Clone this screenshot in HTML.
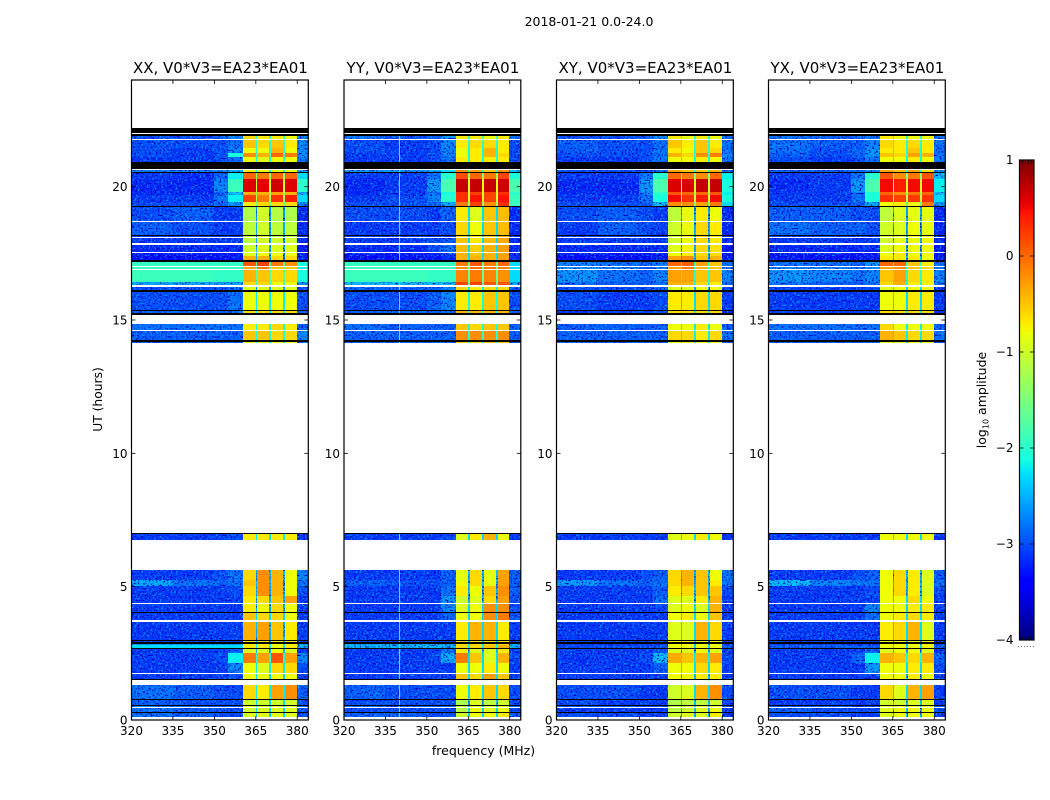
<!DOCTYPE html>
<html lang="en">
<head>
<meta charset="utf-8">
<title>2018-01-21 0.0-24.0</title>
<style>
html,body{margin:0;padding:0;background:#fff;}
svg{display:block;}
text{font-family:"DejaVu Sans","Liberation Sans",sans-serif;fill:#000;}
</style>
</head>
<body>
<svg id="chart" xmlns="http://www.w3.org/2000/svg" width="1050" height="800" viewBox="0 0 1050 800">
<defs>
<filter id="speckle" x="0" y="0" width="1050" height="800" filterUnits="userSpaceOnUse" color-interpolation-filters="sRGB">
<feTurbulence type="fractalNoise" baseFrequency="0.55 0.6" numOctaves="1" seed="3" result="noise"/>
<feColorMatrix in="noise" type="matrix" values="0 0 0 0 0  0 0 0 0 0.62  0 0 0 0 1  5 0 0 0 -2.6" result="light"/>
<feColorMatrix in="noise" type="matrix" values="0 0 0 0 0  0 0 0 0 0  0 0 0 0 0.75  0 5 0 0 -2.6" result="dark"/>
<feMerge result="merged"><feMergeNode in="light"/><feMergeNode in="dark"/></feMerge>
<feComposite in="merged" in2="SourceAlpha" operator="in"/>
</filter>
</defs>
</svg>
<script>
// Frequency bin edges (MHz)
const freqEdges = [320,335,350,355,360.4,365,365.6,369.9,370.5,375,375.6,379.9,384];
// Which value in a data row feeds each frequency bin
const freqBinSource = [0,1,2,3,4,8,5,8,6,8,7,9];
// Time bin edges (UT hours)
const utEdges = [22.2,22.01,21.96,21.91,21.79,21.75,21.45,21.26,21.11,20.94,20.66,20.63,20.54,20.5,20.28,19.81,19.69,19.44,19.29,19.24,18.71,18.68,18.18,18.14,18.11,18.08,17.88,17.81,17.55,17.51,17.4,17.25,17.18,17.03,16.98,16.9,16.88,16.41,16.31,16.23,16.13,16.04,15.38,15.34,15.25,15.2,14.84,14.63,14.59,14.25,14.18,14.13,7.01,6.98,6.76,5.63,5.25,5.03,4.65,4.38,4.34,4.04,4,3.74,3.69,2.99,2.95,2.91,2.85,2.81,2.71,2.67,2.51,2.14,1.75,1.71,1.55,1.51,1.31,0.79,0.75,0.56,0.53,0.48,0.44,0.29,0.25,0.12,0];
// State of each time bin: k = flagged black, w = no data, d = data
const utBinState = "kwkdwddddkwdkdddddkdwdkdwdwdwddkdwdwddwdkdkdkwdwdkdwkdwddddwdkdwdkdkddkdddwdkwdkdkdwdkdw";
// Log10 amplitude per data row: 320-335, 335-350, 350-355, 355-360, sub-band 1..4, band gaps, 380-384
const valuesXX = [
[-3,-3,-2.9,-2.7,-0.6,-0.7,-0.7,-0.8,-1.9,-2.7],
[-3,-3,-3,-2.8,-0.5,-0.6,-0.5,-0.7,-2,-2.7],
[-3,-3.1,-3,-2.7,-0.8,-0.8,-0.4,-0.8,-2,-2.7],
[-3,-3.1,-3,-2.1,-0.2,-0.4,0,-0.1,-1.9,-2.6],
[-3.1,-3.1,-3,-2.8,-0.8,-0.9,-0.8,-0.8,-2,-2.8],
[-2.7,-2.7,-2.7,-2.5,-0.7,-0.8,-0.8,-0.8,-2.1,-2.5],
[-3.1,-3.2,-2.9,-2.2,0,-0.1,0,0,-1.4,-2.3],
[-3.2,-3.2,-2.7,-1.9,0.6,0.55,0.65,0.6,-1,-2],
[-3.2,-3.2,-2.9,-2.4,-0.4,-0.4,-0.3,-0.4,-1.3,-2.5],
[-3.1,-3.1,-2.8,-2.2,0.2,-0.1,0.3,0.4,-1.2,-2.3],
[-3,-3,-2.9,-2.6,-0.7,-0.6,-0.6,-0.6,-1.6,-2.7],
[-3,-2.9,-3.1,-3.1,-1.2,-1,-1.15,-1.2,-2.6,-3.2],
[-2.9,-3,-3.1,-3.1,-1.1,-1,-1.1,-1.1,-2.5,-3.2],
[-3.1,-3.1,-3.1,-3.1,-1.1,-1,-1.1,-1.1,-2.5,-3.2],
[-3.1,-3.1,-3.1,-3.1,-1.1,-1,-1,-1,-2.5,-3.2],
[-3.2,-3.2,-3.2,-3.2,-1,-0.9,-0.9,-0.9,-2.5,-3.3],
[-3.3,-3.3,-3.3,-3.3,-0.9,-0.8,-0.8,-0.8,-2.5,-3.3],
[-3.4,-3.4,-3.4,-3.3,-0.4,-0.4,-0.6,-0.6,-2.4,-3.3],
[-1.95,-1.95,-1.95,-1.95,0.1,0.2,-0.1,-0.2,-1.7,-2.1],
[-1.95,-1.95,-1.95,-1.95,-0.3,-0.1,-0.5,-0.5,-1.7,-2.2],
[-1.9,-1.9,-1.95,-1.95,-0.4,-0.5,-0.6,-0.6,-1.7,-2.1],
[-2.5,-2.5,-2.5,-2.5,-0.6,-0.6,-0.8,-0.8,-1.9,-2.6],
[-3,-3,-3,-2.8,-0.9,-0.9,-0.9,-0.9,-2.4,-3],
[-3,-3,-3,-2.8,-0.8,-0.8,-0.8,-0.8,-2.2,-3],
[-2.9,-2.9,-2.9,-2.8,-0.6,-0.6,-0.6,-0.6,-2.2,-2.9],
[-2.8,-2.8,-2.8,-2.8,-0.7,-0.7,-0.6,-0.7,-2.1,-2.9],
[-2.9,-2.9,-2.9,-2.9,-0.5,-0.5,-0.6,-0.6,-2.1,-2.7],
[-2.9,-2.9,-2.9,-2.9,-0.8,-0.8,-0.8,-0.8,-2.2,-2.8],
[-3.1,-3.1,-3.1,-3,-0.7,-0.7,-0.7,-0.7,-2.2,-3.1],
[-3.1,-3.1,-3,-2.8,-0.6,-0.2,-0.4,-0.8,-2.4,-2.7],
[-2.5,-2.8,-2.9,-2.8,-0.5,-0.2,-0.4,-0.8,-2.4,-2.8],
[-3.1,-3.1,-3.1,-3,-0.6,-0.2,-0.4,-0.8,-2.4,-3],
[-3.1,-3.1,-3.1,-3.1,-0.7,-0.6,-0.5,-0.3,-2.4,-3.1],
[-3.1,-3.1,-3.1,-3.1,-0.7,-0.8,-0.6,-0.8,-2.4,-3.1],
[-3.1,-3.1,-3.1,-3.1,-0.5,-0.6,-0.6,-0.8,-2.3,-3.1],
[-3.1,-3.1,-3.1,-3.1,-0.4,-0.3,-0.5,-0.7,-2.4,-3.1],
[-3.1,-3.1,-3.1,-3.1,-0.7,-0.7,-0.7,-0.7,-2.4,-3.1],
[-2.5,-2.5,-2.5,-2.5,-0.7,-0.7,-0.8,-0.7,-2.2,-2.5],
[-2.3,-2.3,-2.3,-2.3,-0.7,-0.7,-0.8,-0.7,-2.2,-2.4],
[-3.1,-3.1,-3.1,-2.9,-0.9,-0.9,-0.8,-0.9,-2.4,-3.1],
[-3.1,-3.1,-3,-2.2,-0.1,-0.3,0.1,-0.3,-2,-2.7],
[-3.1,-3.1,-3.1,-2.7,-0.8,-0.9,-0.6,-0.6,-2.2,-3],
[-3.1,-3.1,-3.1,-3,-0.8,-0.8,-0.8,-0.8,-2.3,-3.1],
[-2.8,-2.9,-3,-3,-0.6,-0.7,-0.3,-0.2,-2.2,-2.9],
[-2.9,-3,-3,-3,-1,-1,-1,-1,-2.3,-3],
[-2.7,-2.8,-2.9,-2.9,-0.9,-0.9,-0.9,-0.9,-2.2,-2.9],
[-2.8,-2.9,-3,-3,-1,-0.9,-0.9,-0.9,-2.3,-3],
[-2.8,-2.9,-3,-3,-0.9,-0.9,-0.9,-0.9,-2.3,-3]
];
const valuesYY = [
[-2.8,-3,-2.9,-2.6,-0.7,-0.7,-0.8,-0.7,-1.9,-2.8],
[-3,-3.1,-3,-2.7,-0.7,-0.6,-0.6,-0.7,-2,-3],
[-3,-3.1,-3,-2.7,-0.8,-0.7,-0.4,-0.7,-2.1,-3],
[-3.1,-3.1,-3,-2.7,-0.8,-0.7,-0.4,-0.6,-2.1,-3],
[-3.1,-3.1,-3,-2.8,-0.7,-0.7,-0.7,-0.7,-2.1,-3],
[-2.6,-2.6,-2.5,-2.3,-0.2,-0.3,-0.5,-0.2,-2,-2.4],
[-3.1,-3.1,-2.8,-2,0.15,0,-0.1,0.2,-1.3,-2.1],
[-3.2,-3.1,-2.6,-1.8,0.7,0.7,0.7,0.65,-0.9,-1.8],
[-3.2,-3.1,-2.8,-2.1,0.3,0.2,0.2,0.3,-1,-2],
[-3.1,-3,-2.7,-2,0.3,0.45,0.2,0.45,-1,-1.9],
[-3,-3,-2.9,-2.5,-0.1,0.2,-0.2,0.3,-1.4,-1.9],
[-3,-3,-3.1,-2.9,-0.7,-0.9,-0.5,-0.45,-2.3,-3.2],
[-3.1,-3.1,-3.1,-3,-0.6,-0.8,-0.5,-0.45,-2.3,-3.2],
[-3.1,-3.1,-3.1,-3.1,-0.6,-0.7,-0.5,-0.4,-2.3,-3.2],
[-3.1,-3.1,-3,-2.9,-0.5,-0.7,-0.45,-0.35,-2.3,-3.2],
[-3.2,-3.2,-3,-2.8,-0.45,-0.55,-0.4,-0.3,-2.3,-3.2],
[-3.3,-3.3,-3.2,-3.1,-0.4,-0.5,-0.4,-0.3,-2.3,-3.2],
[-3.4,-3.4,-3.3,-3.2,-0.4,-0.4,-0.4,-0.3,-2.3,-3.2],
[-1.95,-1.95,-1.95,-1.95,-0.1,0.1,-0.1,0,-1.6,-2.3],
[-1.9,-1.9,-1.95,-1.95,-0.2,0,-0.1,-0.1,-1.6,-2.3],
[-1.9,-1.9,-1.95,-1.95,-0.15,-0.1,-0.15,-0.2,-1.6,-2.3],
[-2.4,-2.4,-2.4,-2.4,0.2,0.2,0.1,0.1,-1.7,-2.5],
[-2.9,-2.9,-2.9,-2.7,-0.6,-0.7,-0.6,-0.6,-2.2,-3],
[-3,-3,-2.9,-2.7,-0.7,-0.7,-0.5,-0.5,-2.1,-3],
[-2.9,-2.9,-2.9,-2.8,-0.4,-0.4,-0.4,-0.4,-2.1,-2.9],
[-2.8,-2.9,-2.9,-2.9,-0.5,-0.6,-0.5,-0.5,-2.1,-2.9],
[-2.9,-2.9,-2.9,-2.9,-0.2,-0.2,-0.2,-0.2,-2,-2.9],
[-2.9,-2.9,-2.9,-2.9,-0.6,-0.6,-0.5,-0.5,-2.2,-2.9],
[-3.1,-3.1,-3.1,-3,-0.9,-0.7,-0.4,-0.8,-2.3,-3.1],
[-3.1,-3.1,-3.1,-2.9,-0.85,-0.6,-0.85,-0.3,-2.4,-2.9],
[-2.9,-3,-3,-2.9,-0.8,-0.6,-0.85,-0.3,-2.4,-2.9],
[-3.1,-3.1,-3.1,-2.8,-0.7,-0.8,-0.5,-0.2,-2.4,-2.9],
[-3.1,-3.1,-3.1,-2.6,-1,-0.9,-0.6,-0.3,-2.4,-3],
[-3.1,-3.1,-3.1,-2.7,-0.9,-0.8,-0.2,-0.2,-2.3,-3],
[-3.1,-3.1,-3.1,-2.9,-0.8,-0.8,-0.2,-0.1,-2.3,-3],
[-3.1,-3.1,-3.1,-3.1,-0.7,-0.4,-0.4,-0.7,-2.3,-3.1],
[-3.1,-3.1,-3.1,-3.1,-0.7,-0.7,-0.7,-0.7,-2.3,-3.1],
[-2.5,-2.5,-2.5,-2.5,-0.6,-0.6,-0.6,-0.6,-2.2,-2.5],
[-2.4,-2.4,-2.4,-2.4,-0.6,-0.6,-0.5,-0.4,-2.2,-2.5],
[-3.1,-3.1,-3.1,-2.8,-0.7,-0.9,-0.9,-0.7,-2.4,-3.1],
[-3.1,-3.1,-3,-2.5,-0.1,-0.5,-0.9,-0.4,-2.3,-3],
[-3.1,-3.1,-3.1,-3.1,-0.8,-0.8,-0.7,-0.8,-2.3,-3.1],
[-3.1,-3.1,-3.1,-3.1,-0.5,-0.6,-0.3,-0.5,-2.3,-3.1],
[-2.9,-3,-3,-3,-0.8,-0.7,-0.5,-0.6,-2.3,-3],
[-3,-3,-3,-3,-1.2,-0.9,-1.1,-1,-2.4,-3],
[-2.8,-2.9,-2.9,-2.9,-1.1,-0.9,-1,-0.9,-2.3,-2.9],
[-3,-3,-3,-3,-1.1,-0.8,-0.9,-0.8,-2.3,-3],
[-2.9,-2.9,-3,-3,-1,-0.8,-0.8,-0.7,-2.3,-3]
];
const valuesXY = [
[-3,-3,-2.9,-2.7,-0.7,-0.8,-0.7,-0.8,-2,-2.8],
[-2.9,-3,-3,-2.8,-0.5,-0.7,-0.5,-0.7,-2,-2.8],
[-2.9,-3,-3,-2.8,-0.7,-0.8,-0.5,-0.6,-2,-2.8],
[-3,-3,-3,-2.8,-0.4,-0.6,-0.2,-0.1,-2,-2.7],
[-3.1,-3.1,-3,-2.8,-0.8,-0.8,-0.7,-0.8,-2.1,-2.8],
[-3,-3,-3,-2.8,-0.3,-0.5,-0.5,-0.4,-2.1,-2.8],
[-3.1,-3.1,-2.8,-2,0,-0.1,-0.2,0,-1.4,-2.2],
[-3.2,-3.2,-2.6,-1.8,0.6,0.6,0.7,0.7,-1,-2.1],
[-3.2,-3.2,-2.7,-2,0.1,0,0,0.1,-1.2,-2.2],
[-3.1,-3.1,-2.8,-2.1,0.5,0.3,0.4,0.5,-1,-2.1],
[-3,-3,-2.9,-2.4,-0.2,-0.2,-0.3,-0.1,-1.5,-2.3],
[-3,-2.9,-3,-3.1,-1.1,-0.85,-0.7,-0.8,-2.5,-3.2],
[-3.1,-2.9,-3,-3.1,-1,-0.85,-0.6,-0.7,-2.5,-3.2],
[-3.1,-3.1,-3.1,-3.1,-1,-0.8,-0.6,-0.7,-2.5,-3.2],
[-3.1,-3.1,-3.1,-3.1,-1,-0.8,-0.6,-0.7,-2.5,-3.2],
[-3.2,-3.2,-3.2,-3.2,-0.9,-0.75,-0.6,-0.65,-2.5,-3.3],
[-3.3,-3.3,-3.3,-3.3,-0.8,-0.7,-0.6,-0.6,-2.5,-3.3],
[-3.4,-3.4,-3.4,-3.3,-0.3,-0.2,-0.5,-0.4,-2.4,-3.3],
[-2.7,-2.8,-2.9,-2.7,0,0.05,-0.3,-0.5,-1.9,-2.8],
[-2.6,-2.7,-2.9,-2.7,-0.3,-0.1,-0.4,-0.5,-2,-2.8],
[-2.6,-2.8,-2.9,-2.7,-0.3,-0.3,-0.5,-0.5,-2,-2.7],
[-2.8,-2.9,-2.9,-2.8,-0.4,-0.4,-0.6,-0.7,-2.1,-2.8],
[-3,-3,-3,-2.9,-0.9,-0.9,-0.8,-0.8,-2.4,-3],
[-3,-3.1,-3.1,-3,-0.7,-0.7,-0.6,-0.6,-2.3,-3.1],
[-3.1,-3.1,-3.1,-3,-0.6,-0.6,-0.6,-0.6,-2.2,-3.1],
[-2.9,-2.9,-2.9,-2.9,-0.8,-0.8,-0.7,-0.8,-2.2,-2.9],
[-2.9,-2.9,-2.9,-2.9,-0.6,-0.6,-0.7,-0.6,-2.2,-2.8],
[-2.9,-2.9,-2.9,-2.9,-0.9,-0.9,-0.8,-0.8,-2.3,-2.9],
[-3.1,-3.1,-3.1,-3.1,-0.9,-0.8,-0.7,-0.8,-2.3,-3.1],
[-3.1,-3.1,-3,-2.9,-0.6,-0.4,-0.5,-0.8,-2.4,-2.8],
[-2.6,-2.8,-2.9,-2.8,-0.6,-0.4,-0.5,-0.7,-2.4,-2.8],
[-3.1,-3.1,-3.1,-2.9,-0.7,-0.6,-0.5,-0.5,-2.4,-3],
[-3.1,-3.1,-3.1,-2.8,-0.9,-0.9,-0.7,-0.4,-2.4,-3.1],
[-3.1,-3.1,-3.1,-3,-0.9,-0.8,-0.9,-0.4,-2.3,-3.1],
[-3.1,-3.1,-3.1,-3.1,-0.8,-0.7,-0.8,-0.5,-2.3,-3.1],
[-3.1,-3.1,-3.1,-3.1,-0.9,-0.9,-0.4,-0.6,-2.3,-3.1],
[-3.1,-3.1,-3.1,-3.1,-0.8,-0.8,-0.8,-0.8,-2.4,-3.1],
[-3.1,-3.1,-3.1,-3.1,-0.8,-0.8,-0.8,-0.8,-2.4,-3.1],
[-3,-3,-3,-3,-0.8,-0.8,-0.8,-0.8,-2.3,-3],
[-3.1,-3.1,-3.1,-3,-0.9,-0.9,-0.8,-0.9,-2.4,-3.1],
[-3.1,-3.1,-3,-2.4,-0.35,-0.5,-0.4,-0.3,-2.2,-3],
[-3.1,-3.1,-3.1,-2.9,-0.8,-0.8,-0.6,-0.7,-2.3,-3.1],
[-3.1,-3.1,-3.1,-3.1,-0.8,-0.8,-0.7,-0.7,-2.4,-3.1],
[-3,-3,-3.1,-3.1,-1,-0.9,-0.4,-0.2,-2.3,-3],
[-3,-3.1,-3.1,-3.1,-1.2,-1.1,-1.1,-1,-2.4,-3.1],
[-2.9,-2.9,-3,-3,-1.1,-1,-0.9,-0.9,-2.3,-3],
[-3.1,-3.1,-3.1,-3.1,-1.1,-1,-0.9,-0.8,-2.4,-3.1],
[-3,-3,-3.1,-3.1,-1,-0.9,-0.9,-0.7,-2.4,-3.1]
];
const valuesYX = [
[-2.8,-2.9,-2.9,-2.8,-0.7,-0.8,-0.8,-0.8,-2,-2.8],
[-2.8,-2.9,-2.9,-2.7,-0.6,-0.7,-0.6,-0.7,-2,-2.8],
[-2.8,-3,-2.9,-2.6,-0.7,-0.7,-0.5,-0.7,-2.1,-2.8],
[-2.9,-3,-2.9,-2.6,-0.5,-0.6,-0.3,-0.4,-2.1,-2.8],
[-3,-3.1,-3,-2.8,-0.8,-0.8,-0.7,-0.8,-2.1,-2.8],
[-2.9,-2.9,-2.9,-2.7,-0.3,-0.5,-0.3,-0.6,-2.1,-2.7],
[-3.1,-3.1,-2.8,-2,0.1,-0.2,-0.1,0.1,-1.4,-2.4],
[-3.2,-3.1,-2.6,-1.8,0.5,0.4,0.5,0.5,-1,-2.2],
[-3.1,-3.1,-2.8,-2.1,0,-0.2,-0.1,0,-1.2,-2.4],
[-3.1,-3.1,-2.8,-2.1,0.3,0.2,0.25,0.3,-1.1,-2.3],
[-3,-3,-2.9,-2.5,-0.8,-0.7,-0.8,-0.1,-1.6,-2.6],
[-2.9,-2.9,-3,-3,-1.1,-0.9,-0.85,-0.85,-2.5,-3.2],
[-2.8,-2.9,-2.9,-3,-1,-0.9,-0.8,-0.85,-2.5,-3.2],
[-3.1,-3.1,-3.1,-3.1,-1,-0.9,-0.8,-0.85,-2.5,-3.2],
[-3.1,-3.1,-3.1,-3.1,-1,-0.85,-0.8,-0.8,-2.5,-3.2],
[-3.2,-3.2,-3.2,-3.2,-0.9,-0.8,-0.8,-0.8,-2.5,-3.3],
[-3.3,-3.3,-3.3,-3.3,-0.8,-0.7,-0.8,-0.8,-2.5,-3.3],
[-3.3,-3.4,-3.4,-3.3,-0.7,-0.7,-0.7,-0.8,-2.4,-3.3],
[-2.8,-2.8,-2.9,-2.6,0,0,-0.5,-0.7,-1.9,-2.8],
[-2.7,-2.7,-2.8,-2.7,-0.3,-0.2,-0.5,-0.6,-2,-2.8],
[-2.6,-2.7,-2.8,-2.7,-0.5,-0.3,-0.6,-0.7,-2,-2.7],
[-2.8,-2.9,-2.9,-2.8,-0.6,-0.4,-0.7,-0.7,-2.1,-2.8],
[-3.1,-3.1,-3.1,-3,-0.9,-0.8,-0.8,-0.8,-2.3,-3.1],
[-3.1,-3.1,-3.1,-3.1,-0.8,-0.8,-0.7,-0.7,-2.3,-3.1],
[-3.1,-3.1,-3.1,-3.1,-0.6,-0.6,-0.6,-0.6,-2.2,-3.1],
[-2.8,-2.8,-2.8,-2.8,-0.6,-0.8,-0.8,-0.8,-2.2,-2.9],
[-2.9,-2.9,-2.9,-2.9,-0.4,-0.5,-0.6,-0.6,-2.2,-2.8],
[-2.9,-2.9,-2.9,-2.9,-0.9,-0.9,-0.8,-0.8,-2.3,-2.9],
[-3.1,-3.1,-3.1,-3.1,-0.8,-0.8,-0.8,-0.8,-2.3,-3.1],
[-3.1,-3.1,-3,-2.9,-0.8,-0.6,-0.7,-0.9,-2.4,-2.9],
[-2.4,-2.7,-2.8,-2.8,-0.8,-0.6,-0.7,-0.9,-2.4,-2.8],
[-3.1,-3.1,-3.1,-3,-0.8,-0.6,-0.7,-0.9,-2.4,-3],
[-3.1,-3.1,-3.1,-3.1,-0.8,-0.8,-0.6,-0.8,-2.3,-3.1],
[-3.1,-3.1,-3.1,-2.7,-0.8,-0.8,-0.7,-0.7,-2.3,-3.1],
[-3.1,-3.1,-3.1,-2.8,-0.8,-0.7,-0.6,-0.7,-2.3,-3.1],
[-3.1,-3.1,-3.1,-3.1,-0.7,-0.6,-0.4,-0.9,-2.3,-3.1],
[-3.1,-3.1,-3.1,-3.1,-0.8,-0.8,-0.8,-0.8,-2.4,-3.1],
[-3.1,-3.1,-3.1,-3.1,-0.8,-0.8,-0.8,-0.8,-2.4,-3.1],
[-2.9,-2.9,-2.9,-2.9,-0.8,-0.8,-0.8,-0.8,-2.3,-2.9],
[-3.1,-3.1,-3.1,-2.9,-0.9,-0.8,-0.8,-0.9,-2.4,-3.1],
[-3.1,-3.1,-2.9,-2.2,-0.4,-0.5,-0.6,-0.4,-2.1,-2.9],
[-3.1,-3.1,-3.1,-2.6,-0.8,-0.8,-0.7,-0.7,-2.3,-3],
[-3.1,-3.1,-3.1,-3.1,-0.8,-0.8,-0.7,-0.8,-2.4,-3.1],
[-3,-3,-3.1,-3.1,-0.6,-0.9,-0.4,-0.3,-2.3,-3.1],
[-3.1,-3.1,-3.1,-3.1,-1,-1,-0.9,-0.9,-2.4,-3.1],
[-2.9,-2.9,-3,-3,-0.9,-0.9,-0.9,-0.9,-2.3,-3],
[-2.9,-3,-3,-3,-0.9,-0.8,-0.8,-0.8,-2.4,-3],
[-3,-3,-3.1,-3.1,-0.9,-0.8,-0.8,-0.8,-2.4,-3.1]
];
// Narrow interference line seen in the YY panel
const rfiFreqYY = [339.8];
const rfiLevelYY = [-2.15];
// Panel titles and tick labels
const panelNames = ["XX","YY","XY","YX"];
const panelSuffix = ", V0*V3=EA23*EA01";
const freqTicks = [320,335,350,365,380];
const utTicks = [0,5,10,15,20];
const colorTicks = [1,0,-1,-2,-3,-4];

const svg = document.getElementById('chart');
const NS = 'http://www.w3.org/2000/svg';
const panelValues = [valuesXX,valuesYY,valuesXY,valuesYX];
const panelLeft = [131.5,344,556.5,768.5];
const panelWidth = 176.8, plotTop = 80, plotBottom = 720;
const freqDomain = [320,384], utDomain = [0,24], colorDomain = [-4,1];

function xScale(p,f){return panelLeft[p]+(f-freqDomain[0])/(freqDomain[1]-freqDomain[0])*panelWidth;}
function yScale(t){return plotBottom-(t-utDomain[0])/(utDomain[1]-utDomain[0])*(plotBottom-plotTop);}
function lerp(pts,t){
  for(let i=1;i<pts.length;i++){
    if(t<=pts[i][0]){
      const a=pts[i-1],b=pts[i];
      return a[1]+(b[1]-a[1])*(t-a[0])/(b[0]-a[0]);
    }
  }
  return pts[pts.length-1][1];
}
const jetR=[[0,0],[.35,0],[.66,1],[.89,1],[1,.5]];
const jetG=[[0,0],[.125,0],[.375,1],[.64,1],[.91,0],[1,0]];
const jetB=[[0,.5],[.11,1],[.34,1],[.65,0],[1,0]];
function colorScale(v){
  const t=Math.max(0,Math.min(1,(v-colorDomain[0])/(colorDomain[1]-colorDomain[0])));
  return 'rgb('+Math.round(lerp(jetR,t)*255)+','+Math.round(lerp(jetG,t)*255)+','+Math.round(lerp(jetB,t)*255)+')';
}
function make(tag,attrs,parent){
  const el=document.createElementNS(NS,tag);
  for(const k in attrs){el.setAttribute(k,attrs[k]);}
  (parent||svg).appendChild(el);
  return el;
}
function label(str,x,y,size,anchor,parent){
  const el=make('text',{x:x,y:y,'font-size':size,'text-anchor':anchor},parent);
  el.textContent=str;
  return el;
}

const suptitle=label('2018-01-21 0.0-24.0',589,26,12.5,'middle');



panelNames.forEach(function(name,p){
  const group=make('g',{});
  
  
  const rows=panelValues[p];
  const cells=make('g',{'shape-rendering':'crispEdges'},group);
  
  
  const speckles=make('g',{'shape-rendering':'crispEdges',filter:'url(#speckle)'},group);
  
  
  const lines=make('g',{'shape-rendering':'crispEdges'},group);
  
  
  let dataRow=0;
  for(let r=0;r<utEdges.length-1;r++){
    const state=utBinState[r];
    if(state==='w'){continue;}
    const y0=Math.round(yScale(utEdges[r]));
    const y1=Math.max(y0+1,Math.round(yScale(utEdges[r+1])));
    const x0=Math.round(xScale(p,freqDomain[0]));
    const x1=Math.round(xScale(p,freqDomain[1]));
    if(state==='k'){
      const flag=make('rect',{x:x0,y:y0,width:x1-x0,height:y1-y0,fill:'#000'},cells);
      
      
      continue;
    }
    const row=rows[dataRow];
    dataRow++;
    for(let c=0;c<freqEdges.length-1;c++){
      const v=row[freqBinSource[c]];
      const cx0=Math.round(xScale(p,freqEdges[c]));
      const cx1=Math.round(xScale(p,freqEdges[c+1]));
      const cell=make('rect',{x:cx0,y:y0,width:cx1-cx0,height:y1-y0,fill:colorScale(v)},cells);
      
      
      if(v<-2.3){
        const tex=make('rect',{x:cx0,y:y0,width:cx1-cx0,height:y1-y0,fill:'#000'},speckles);
        
        
      }
    }
    if(name==='YY' && row[0]<rfiLevelYY[0]){
      const line=make('rect',{x:Math.round(xScale(p,rfiFreqYY[0])),y:y0,width:1,height:y1-y0,fill:colorScale(rfiLevelYY[0])},lines);
      
      
    }
  }
  const left=panelLeft[p], right=left+panelWidth;
  const frame=make('rect',{x:left,y:plotTop,width:panelWidth,height:plotBottom-plotTop,fill:'none',stroke:'#000','stroke-width':1.2},group);
  
  
  freqTicks.forEach(function(f){
    const x=xScale(p,f);
    const a=make('line',{x1:x,x2:x,y1:plotBottom,y2:plotBottom-4,stroke:'#000','stroke-width':0.8},group);
    
    
    const b=make('line',{x1:x,x2:x,y1:plotTop,y2:plotTop+4,stroke:'#000','stroke-width':0.8},group);
    
    
    const t=label(String(f),x,735,12,'middle',group);
    
    
  });
  utTicks.forEach(function(u){
    const y=yScale(u);
    const a=make('line',{x1:left,x2:left+4,y1:y,y2:y,stroke:'#000','stroke-width':0.8},group);
    
    
    const b=make('line',{x1:right,x2:right-4,y1:y,y2:y,stroke:'#000','stroke-width':0.8},group);
    
    
    const t=label(String(u),left-4,y+4.5,12,'end',group);
    
    
  });
  const title=label(name+panelSuffix,left+panelWidth/2+0.5,73,15,'middle',group);
  
  
});

const xTitle=label('frequency (MHz)',483.5,755,12.5,'middle');


const yTitle=label('UT (hours)',0,0,12.3,'middle');
yTitle.setAttribute('transform','translate(102,399.5) rotate(-90)');



// Colorbar
const cbLeft=1019.5, cbRight=1034, cbTop=160, cbBottom=640;
function cbScale(v){return cbBottom-(v-colorDomain[0])/(colorDomain[1]-colorDomain[0])*(cbBottom-cbTop);}
const cb=make('g',{});


const cbSwatches=make('g',{'shape-rendering':'crispEdges'},cb);


for(let py=cbTop;py<cbBottom;py+=2){
  const v=colorDomain[0]+(cbBottom-py-1)/(cbBottom-cbTop)*(colorDomain[1]-colorDomain[0]);
  const sw=make('rect',{x:cbLeft,y:py,width:cbRight-cbLeft,height:2,fill:colorScale(v)},cbSwatches);
  
  
}
const cbFrame=make('rect',{x:cbLeft,y:cbTop,width:cbRight-cbLeft,height:cbBottom-cbTop,fill:'none',stroke:'#000','stroke-width':1.2},cb);


colorTicks.forEach(function(v){
  const y=cbScale(v);
  const a=make('line',{x1:cbLeft,x2:cbLeft+4,y1:y,y2:y,stroke:'#000','stroke-width':0.8},cb);
  
  
  const b=make('line',{x1:cbRight,x2:cbRight-4,y1:y,y2:y,stroke:'#000','stroke-width':0.8},cb);
  
  
  const t=label(v<0?'\u2212'+Math.abs(v):String(v),1013.5,y+4,12,'end',cb);
  
  
});
for(let i=1;i<=4;i++){
  const mx=cbLeft+i*(cbRight-cbLeft)/5;
  const m1=make('line',{x1:mx,x2:mx,y1:cbTop,y2:cbTop+4,stroke:'#000','stroke-width':0.7},cb);
  
  
  const m2=make('line',{x1:mx,x2:mx,y1:cbBottom,y2:cbBottom-4,stroke:'#000','stroke-width':0.7},cb);
  
  
}
const dots=make('line',{x1:1018,x2:1035,y1:646.5,y2:646.5,stroke:'#777','stroke-width':1,'stroke-dasharray':'1 2'},cb);


const cbTitle=make('text',{'font-size':12.5,'text-anchor':'middle',transform:'translate(986,400) rotate(-90)'},cb);


const logPart=make('tspan',{},cbTitle);
logPart.textContent='log';
const subPart=make('tspan',{'font-size':8,dy:2.5},cbTitle);
subPart.textContent='10';
const ampPart=make('tspan',{dy:-2.5},cbTitle);
ampPart.textContent=' amplitude';
</script>
</body>
</html>
